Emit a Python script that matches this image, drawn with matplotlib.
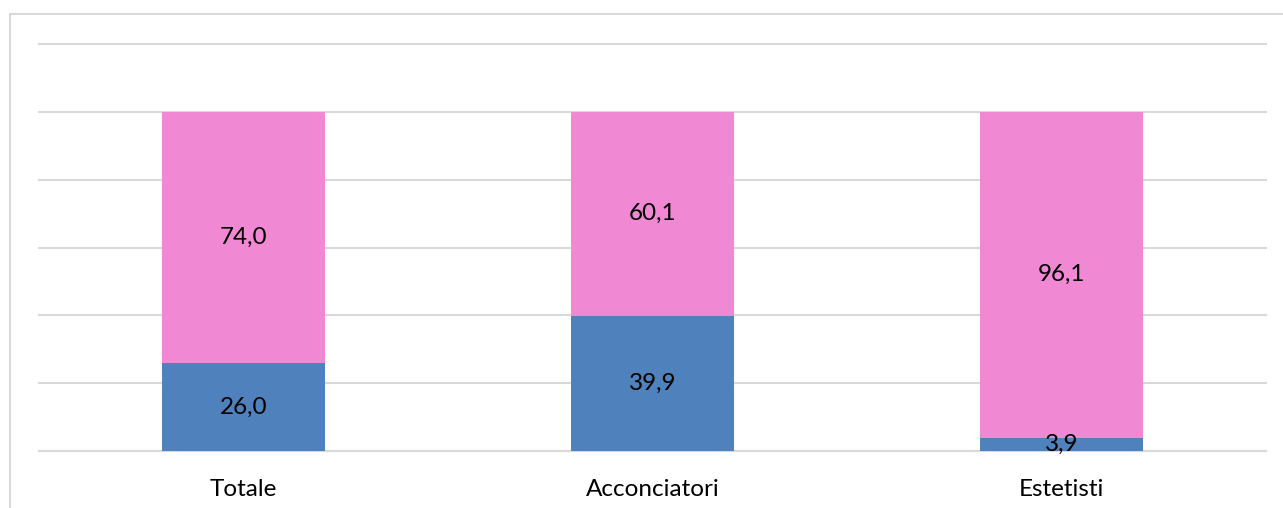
import matplotlib
matplotlib.use("Agg")
import matplotlib.pyplot as plt
from matplotlib.lines import Line2D

categories = ["Totale", "Acconciatori", "Estetisti"]
blue_vals = [26.0, 39.9, 3.9]
pink_vals = [74.0, 60.1, 96.1]

plt.rcParams['font.family'] = ['Lato', 'DejaVu Sans']

W, H = 1283, 508
fig = plt.figure(figsize=(W/100, H/100), dpi=100)
left, right, top, bottom = 39, 1266, 44, 451
ax = fig.add_axes([left/W, 1 - bottom/H, (right-left)/W, (bottom-top)/H])

x = list(range(len(categories)))
bw = 0.4
ax.bar(x, blue_vals, width=bw, color="#4F81BD", zorder=3)
ax.bar(x, pink_vals, width=bw, bottom=blue_vals, color="#F088D3", zorder=3)

fs = 17.5
for xi, b, p in zip(x, blue_vals, pink_vals):
    ax.text(xi, b/2, f"{b:.1f}".replace(".", ","), ha="center", va="center", fontsize=fs, color="black", zorder=4)
    ax.text(xi, b + p/2, f"{p:.1f}".replace(".", ","), ha="center", va="center", fontsize=fs, color="black", zorder=4)

ax.set_xlim(-0.5, 2.5)
ax.set_ylim(0, 120)
ax.set_yticks(range(0, 121, 20))
ax.yaxis.grid(True, color="#D9D9D9", linewidth=1.5, zorder=0)
for gl in ax.get_ygridlines():
    gl.set_clip_on(False)
ax.tick_params(axis="y", left=False, labelleft=False)
ax.tick_params(axis="x", bottom=False, labelsize=fs, pad=17)
ax.set_xticks(x)
ax.set_xticklabels(categories)
for s in ["top", "right", "left"]:
    ax.spines[s].set_visible(False)
ax.spines["bottom"].set_color("#D9D9D9")
ax.spines["bottom"].set_linewidth(1.5)

# outer chart border (top and left only visible)
fig.add_artist(Line2D([10/W, 1], [1 - 14/H, 1 - 14/H], transform=fig.transFigure, color="#D9D9D9", linewidth=1.5))
fig.add_artist(Line2D([10/W, 10/W], [0, 1 - 14/H], transform=fig.transFigure, color="#D9D9D9", linewidth=1.5))

fig.savefig("out.png", dpi=100)
